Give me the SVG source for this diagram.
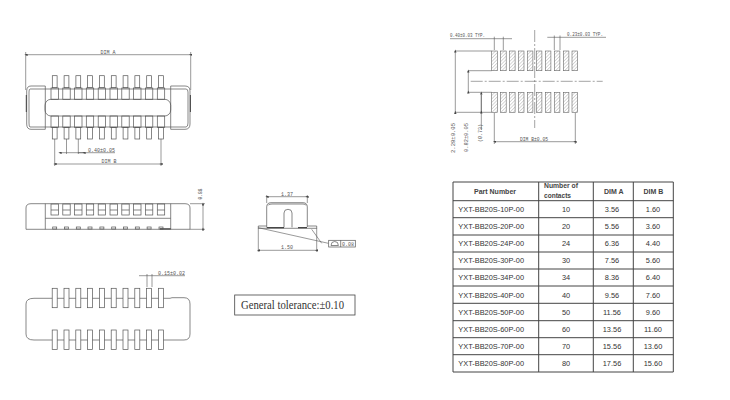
<svg xmlns="http://www.w3.org/2000/svg" xmlns:xlink="http://www.w3.org/1999/xlink" width="730" height="400" viewBox="0 0 730 400">
<style>
.l{fill:none;stroke:#555;stroke-width:.7}
.t{fill:none;stroke:#555;stroke-width:.6}
.c{fill:none;stroke:#666;stroke-width:.6;stroke-dasharray:12 2 2 2}
.d{font-family:"Liberation Mono",monospace;font-size:5px;fill:#555}
.m{text-anchor:middle}
.r{font-family:"Liberation Sans",Arial,sans-serif;font-size:7.4px;fill:#333}
.b{font-weight:bold;font-size:7px;fill:#444}
.g{stroke:#444;stroke-width:1;fill:none}
.a{marker-start:url(#ar);marker-end:url(#ar)}
</style>
<defs>
<marker id="ar" viewBox="0 0 8 6" refX="4" refY="3" markerWidth="6" markerHeight="4" orient="auto"><path d="M0 3L8 0V6Z" fill="#444"/></marker>
<pattern id="hatch" width="2.4" height="2.4" patternUnits="userSpaceOnUse" patternTransform="rotate(-45)"><rect width="2.4" height="2.4" fill="#fff"/><line x1="0" y1="0" x2="2.4" y2="0" stroke="#aaa" stroke-width=".9"/></pattern>
<g id="tp"><rect class="l" x="-2.4" y="75.7" width="4.8" height="12"/><rect class="l" x="-3.7" y="88" width="7.4" height="11.3"/><rect class="l" x="-3.7" y="116" width="7.4" height="11.3"/><rect class="l" x="-2.4" y="127.3" width="4.8" height="11.7"/></g>
<g id="sp"><rect class="l" x="-3.7" y="204" width="7.4" height="11"/><line class="l" x1="-3.7" x2="3.7" y1="210" y2="210"/><rect class="l" x="-2" y="227" width="4" height="2"/></g>
<g id="bp"><rect fill="#fff" stroke="#555" stroke-width=".7" x="-2.5" y="288.3" width="5" height="19.4"/><rect fill="#fff" stroke="#555" stroke-width=".7" x="-2.5" y="330" width="5" height="19.4"/></g>
<g id="pd"><rect x="0" y="51" width="5.6" height="19.7" fill="url(#hatch)" stroke="#666" stroke-width=".6"/><rect x="0" y="92.3" width="5.6" height="20" fill="url(#hatch)" stroke="#666" stroke-width=".6"/></g>
</defs>
<rect width="730" height="400" fill="#fff"/>
<g id="top-view">
<line class="t a" x1="26" x2="190.5" y1="54.7" y2="54.7"/>
<path class="t" d="M25.7 52V90M190.7 52V90"/>
<text class="d m" x="108" y="53.5" textLength="15" lengthAdjust="spacingAndGlyphs">DIM A</text>
<path class="l" d="M45.3 86H31Q26.7 86 26.7 91V124Q26.7 129.3 31 129.3H45.3M45.3 89H30Q29 89 29 92V123Q29 127 30 127H45.3M170.7 86H185Q190 86 190 91V124Q190 129.3 185 129.3H170.7M170.7 89H186Q188 89 188 92V123Q188 127 186 127H170.7"/>
<path class="l" d="M45.3 86V129.3M170.7 86V129.3M45.3 89H170.7M45.3 127H170.7"/>
<path d="M26.3 95V112M190.4 95V112" stroke="#444" stroke-width="1"/>
<use xlink:href="#tp" x="54.7"/><use xlink:href="#tp" x="66.5"/><use xlink:href="#tp" x="78.3"/><use xlink:href="#tp" x="90"/><use xlink:href="#tp" x="101.9"/><use xlink:href="#tp" x="113.7"/><use xlink:href="#tp" x="125.5"/><use xlink:href="#tp" x="137.3"/><use xlink:href="#tp" x="149.1"/><use xlink:href="#tp" x="161"/>
<rect class="l" x="45" y="99.3" width="125.7" height="16.7" rx="6"/>
<path class="t" d="M54.7 139V166M66.5 139V154M78.3 139V154M161 139V166"/>
<line class="t a" x1="60" x2="84" y1="152.7" y2="152.7"/>
<line class="t" x1="78" x2="115" y1="152.7" y2="152.7"/>
<text class="d" x="88" y="151.5" textLength="27" lengthAdjust="spacingAndGlyphs">0.40±0.05</text>
<line class="t a" x1="55" x2="161" y1="164" y2="164"/>
<text class="d m" x="109" y="163" textLength="15" lengthAdjust="spacingAndGlyphs">DIM B</text>
</g>
<g id="side-view">
<path class="l" d="M26 229.3V208Q26 203.7 31 203.7H185Q190 203.7 190 208V229.3H26M45.3 203.7V229.3M170.7 203.7V229.3M45.3 218.3H170.7"/>
<path d="M160 228.9H170.7" stroke="#222" stroke-width="1"/>
<use xlink:href="#sp" x="54.7"/><use xlink:href="#sp" x="66.5"/><use xlink:href="#sp" x="78.3"/><use xlink:href="#sp" x="90"/><use xlink:href="#sp" x="101.9"/><use xlink:href="#sp" x="113.7"/><use xlink:href="#sp" x="125.5"/><use xlink:href="#sp" x="137.3"/><use xlink:href="#sp" x="149.1"/><use xlink:href="#sp" x="161"/>
<path class="t" d="M190 203.7H205M190 229.3H205"/>
<line class="t a" x1="203" x2="203" y1="204" y2="229"/>
<text class="d m" transform="translate(201.5 194) rotate(-90)" textLength="11" lengthAdjust="spacingAndGlyphs">0.88</text>
</g>
<g id="bottom-view">
<path class="l" d="M46 298.3H34Q26 298.3 26 304V334Q26 340 34 340H46M46 298.3H170L172 297.7H184Q190 297.7 190 304V334Q190 340 184 340H46"/>
<use xlink:href="#bp" x="54.7"/><use xlink:href="#bp" x="66.5"/><use xlink:href="#bp" x="78.3"/><use xlink:href="#bp" x="90"/><use xlink:href="#bp" x="101.9"/><use xlink:href="#bp" x="113.7"/><use xlink:href="#bp" x="125.5"/><use xlink:href="#bp" x="137.3"/><use xlink:href="#bp" x="149.1"/><use xlink:href="#bp" x="161"/>
<path class="t" d="M147 274V287M152 274V287M139 275.7H185"/>
<text class="d" x="158" y="275" textLength="27" lengthAdjust="spacingAndGlyphs">0.15±0.02</text>
</g>
<g id="section-view">
<path class="l" d="M266.7 227V207Q266.7 202.7 271 202.7H303Q307.3 202.7 307.3 207V227"/>
<path class="l" d="M268 205.5Q268 204 272 204H303Q306 204 306 205.5"/>
<path class="l" d="M284 227.3V213Q284 209.3 288 209.3Q292 209.3 292 213V227.3M258.3 226H266.7M307.3 226H316.7V228.3H258.3V226"/>
<path d="M266.7 227.7H284M298 227.7H307" stroke="#222" stroke-width="1"/>
<path class="t" d="M258.3 227.7L328.3 243.3M311.7 229.3L321.7 243.3M258.3 228V252M316.7 228V252M266.7 195V203M307.3 195V203"/>
<line class="t a" x1="267" x2="307" y1="196.7" y2="196.7"/>
<text class="d m" x="287" y="195.5" textLength="12" lengthAdjust="spacingAndGlyphs">1.37</text>
<line class="t a" x1="258.5" x2="316.5" y1="250.3" y2="250.3"/>
<text class="d m" x="287" y="249.3" textLength="12" lengthAdjust="spacingAndGlyphs">1.50</text>
<rect class="l" x="328.7" y="240.3" width="26.6" height="6.7"/>
<path class="l" d="M340.7 240.3V247M331 245.5Q331 241.5 334.7 241.5Q338.4 241.5 338.4 245.5Z"/>
<text class="d" x="342" y="245.7" textLength="12" lengthAdjust="spacingAndGlyphs">0.08</text>
</g>
<g id="tolerance">
<rect x="234.7" y="295" width="120.3" height="20" fill="#fff" stroke="#444" stroke-width=".8"/>
<text x="241" y="309.3" font-family="Liberation Serif,serif" font-size="12" fill="#333" textLength="103" lengthAdjust="spacingAndGlyphs">General tolerance:±0.10</text>
</g>
<g id="footprint">
<use xlink:href="#pd" x="491.7"/><use xlink:href="#pd" x="500.6"/><use xlink:href="#pd" x="509.5"/><use xlink:href="#pd" x="518.4"/><use xlink:href="#pd" x="527.3"/><use xlink:href="#pd" x="536.3"/><use xlink:href="#pd" x="545.3"/><use xlink:href="#pd" x="554.3"/><use xlink:href="#pd" x="563.3"/><use xlink:href="#pd" x="572"/>
<line class="c" x1="470.7" x2="602.7" y1="81.3" y2="81.3"/>
<line class="c" x1="534.7" x2="534.7" y1="30" y2="128"/>
<path class="t" d="M450 38.7H512M494.3 36.7V50M503.3 36.7V50M547.3 37.3H606M554.3 35.5V50M560 35.5V50M455.3 51H491.7M455.3 112.3H491.7M468.3 70.7H491.7M468.3 92.3H491.7M494.3 113V144M575.3 113V144M481.3 95V130"/>
<line class="t a" x1="455.3" x2="455.3" y1="51" y2="112.3"/>
<line class="t a" x1="468.3" x2="468.3" y1="71" y2="92"/>
<line class="t a" x1="481.3" x2="481.3" y1="93" y2="112"/>
<line class="t a" x1="494.5" x2="575" y1="141.7" y2="141.7"/>
<text class="d" x="450" y="37.3" textLength="35" lengthAdjust="spacingAndGlyphs">0.40±0.03 TYP.</text>
<text class="d" x="567" y="36" textLength="36" lengthAdjust="spacingAndGlyphs">0.23±0.03 TYP.</text>
<text class="d" x="520" y="140.7" textLength="28" lengthAdjust="spacingAndGlyphs">DIM B±0.05</text>
<text class="d" transform="translate(454.5 153) rotate(-90)" textLength="30" lengthAdjust="spacingAndGlyphs">2.28±0.05</text>
<text class="d" transform="translate(468.3 152) rotate(-90)" textLength="29" lengthAdjust="spacingAndGlyphs">0.82±0.05</text>
<text class="d" transform="translate(481.5 142) rotate(-90)" textLength="18" lengthAdjust="spacingAndGlyphs">(0.73)</text>
</g>
<g id="table">
<rect x="453" y="182" width="220.3" height="190" fill="#fff"/>
<path class="g" d="M453 182H673.3V372H453ZM453 200.7H673.3M453 217.7H673.3M453 235H673.3M453 252H673.3M453 269H673.3M453 286H673.3M453 303.3H673.3M453 320.7H673.3M453 337.7H673.3M453 354.7H673.3M538.7 182V372M593.3 182V372M633.3 182V372"/>
<g>
<text class="r b m" x="495" y="194">Part Number</text>
<text class="r b" x="544" y="188.3" textLength="34" lengthAdjust="spacingAndGlyphs">Number of</text>
<text class="r b" x="544" y="198" textLength="27" lengthAdjust="spacingAndGlyphs">contacts</text>
<text class="r b m" x="613.7" y="194">DIM A</text>
<text class="r b m" x="653.3" y="194">DIM B</text>
<text class="r" x="458.3" y="211.7">YXT-BB20S-10P-00</text><text class="r m" x="566" y="211.7">10</text><text class="r m" x="612" y="211.7">3.56</text><text class="r m" x="653" y="211.7">1.60</text>
<text class="r" x="458.3" y="229">YXT-BB20S-20P-00</text><text class="r m" x="566" y="229">20</text><text class="r m" x="612" y="229">5.56</text><text class="r m" x="653" y="229">3.60</text>
<text class="r" x="458.3" y="246.2">YXT-BB20S-24P-00</text><text class="r m" x="566" y="246.2">24</text><text class="r m" x="612" y="246.2">6.36</text><text class="r m" x="653" y="246.2">4.40</text>
<text class="r" x="458.3" y="263.2">YXT-BB20S-30P-00</text><text class="r m" x="566" y="263.2">30</text><text class="r m" x="612" y="263.2">7.56</text><text class="r m" x="653" y="263.2">5.60</text>
<text class="r" x="458.3" y="280.3">YXT-BB20S-34P-00</text><text class="r m" x="566" y="280.3">34</text><text class="r m" x="612" y="280.3">8.36</text><text class="r m" x="653" y="280.3">6.40</text>
<text class="r" x="458.3" y="297.5">YXT-BB20S-40P-00</text><text class="r m" x="566" y="297.5">40</text><text class="r m" x="612" y="297.5">9.56</text><text class="r m" x="653" y="297.5">7.60</text>
<text class="r" x="458.3" y="314.7">YXT-BB20S-50P-00</text><text class="r m" x="566" y="314.7">50</text><text class="r m" x="612" y="314.7">11.56</text><text class="r m" x="653" y="314.7">9.60</text>
<text class="r" x="458.3" y="331.8">YXT-BB20S-60P-00</text><text class="r m" x="566" y="331.8">60</text><text class="r m" x="612" y="331.8">13.56</text><text class="r m" x="653" y="331.8">11.60</text>
<text class="r" x="458.3" y="349">YXT-BB20S-70P-00</text><text class="r m" x="566" y="349">70</text><text class="r m" x="612" y="349">15.56</text><text class="r m" x="653" y="349">13.60</text>
<text class="r" x="458.3" y="366.2">YXT-BB20S-80P-00</text><text class="r m" x="566" y="366.2">80</text><text class="r m" x="612" y="366.2">17.56</text><text class="r m" x="653" y="366.2">15.60</text>
</g>
</g>
</svg>
